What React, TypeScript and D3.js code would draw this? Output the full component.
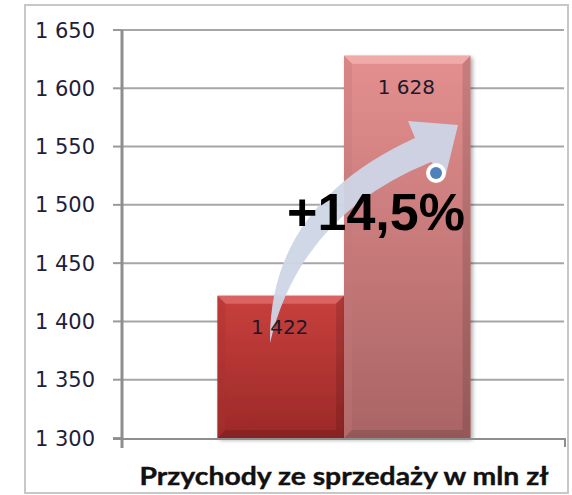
import React from 'react';
import * as d3 from 'd3';

const category = 'Przychody ze sprzedaży w mln zł';
const seriesNames = ['2010', '2011'];
const seriesValues = [1422, 1628];
const valueLabels = ['1 422', '1 628'];
const yTicks = [1300, 1350, 1400, 1450, 1500, 1550, 1600, 1650];
const yTickLabels = ['1 300', '1 350', '1 400', '1 450', '1 500', '1 550', '1 600', '1 650'];
const changeLabel = '+14,5%';

const W = 572, H = 495;
const margin = { top: 30, right: 6, bottom: 57, left: 122 };

const barColors = [
    { top: '#c8403d', bottom: '#9c2928', bevel: '#dc6a66', side: '#a83230' },
    { top: '#e48f8f', bottom: '#aa6464', bevel: '#f2b0ae', side: '#c27878' }
];

export default function App() {
    const plotRight = W - margin.right;
    const plotBottom = H - margin.bottom;

    const yScale = d3.scaleLinear().domain([1300, 1650]).range([plotBottom, margin.top]);
    const xScale0 = d3.scaleBand().domain([category]).range([margin.left, plotRight])
        .paddingInner(0).paddingOuter(0.377);
    const xScale1 = d3.scaleBand().domain(seriesNames).range([0, xScale0.bandwidth()]);

    const bars = seriesNames.map((s, i) => {
        const x = (xScale0(category) as number) + (xScale1(s) as number);
        const y = yScale(seriesValues[i]);
        return { s, i, x, y, w: xScale1.bandwidth(), h: plotBottom - y };
    });

    const b = 8; // bevel size

    return <svg width={W} height={H} style={{ position: 'absolute', left: 0, top: 0, background: '#fff' }}>
        <defs>
            {bars.map(d => (
                <linearGradient key={d.s} id={'bar' + d.i} x1="0" y1="0" x2="0" y2="1">
                    <stop offset="0%" stopColor={barColors[d.i].top} />
                    <stop offset="100%" stopColor={barColors[d.i].bottom} />
                </linearGradient>
            ))}
            <filter id="shadow" x="-10%" y="-10%" width="130%" height="130%">
                <feGaussianBlur in="SourceAlpha" stdDeviation="2" />
                <feOffset dx="2" dy="2" result="off" />
                <feComponentTransfer><feFuncA type="linear" slope="0.35" /></feComponentTransfer>
                <feMerge><feMergeNode /><feMergeNode in="SourceGraphic" /></feMerge>
            </filter>
        </defs>

        {/* outer frame */}
        <rect x={25} y={5} width={543} height={488} fill="none" stroke="#c8c8c8" strokeWidth={2} />

        {/* gridlines + y ticks */}
        {yTicks.map((t, i) => (
            <g key={t}>
                {i > 0 && <line x1={margin.left} x2={plotRight - 2} y1={yScale(t)} y2={yScale(t)} stroke="#a6a6a6" strokeWidth={2} />}
                <line x1={margin.left - 9} x2={margin.left} y1={yScale(t)} y2={yScale(t)} stroke="#9a9a9a" strokeWidth={2} />
                <text x={95} y={yScale(t)} dy="0.36em" textAnchor="end" fontFamily="DejaVu Sans" fontSize={21} fill="#1e1e3a">{yTickLabels[i]}</text>
            </g>
        ))}

        {/* bars */}
        {bars.map(d => {
            const c = barColors[d.i];
            return <g key={d.s} filter="url(#shadow)">
                <rect x={d.x} y={d.y} width={d.w} height={d.h} fill={`url(#bar${d.i})`} />
                <polygon points={`${d.x},${d.y} ${d.x + d.w},${d.y} ${d.x + d.w - b},${d.y + b} ${d.x + b},${d.y + b}`} fill={c.bevel} opacity={0.85} />
                <polygon points={`${d.x},${d.y} ${d.x + b},${d.y + b} ${d.x + b},${d.y + d.h - b} ${d.x},${d.y + d.h}`} fill={c.side} opacity={0.35} />
                <polygon points={`${d.x + d.w},${d.y} ${d.x + d.w - b},${d.y + b} ${d.x + d.w - b},${d.y + d.h - b} ${d.x + d.w},${d.y + d.h}`} fill="#000" opacity={0.12} />
                <polygon points={`${d.x},${d.y + d.h} ${d.x + b},${d.y + d.h - b} ${d.x + d.w - b},${d.y + d.h - b} ${d.x + d.w},${d.y + d.h}`} fill="#000" opacity={0.12} />
            </g>;
        })}

        {/* axes */}
        <line x1={margin.left} x2={margin.left} y1={margin.top} y2={plotBottom + 10} stroke="#8e8e8e" strokeWidth={3} />
        <line x1={margin.left - 9} x2={plotRight} y1={plotBottom + 1} y2={plotBottom + 1} stroke="#8e8e8e" strokeWidth={2} />
        <line x1={plotRight - 1} x2={plotRight - 1} y1={plotBottom + 1} y2={plotBottom + 9} stroke="#8e8e8e" strokeWidth={2} />

        {/* growth arrow */}
        <path d="M270,343 Q268,205 415,138 L408,121 L458,125 L446,174 L431,162 Q300,215 270,343 Z" fill="#cdd5e6" opacity={0.95} />

        {/* value labels */}
        {bars.map(d => (
            <text key={d.s} x={d.x + d.w / 2 - 1} y={d.y + 38} textAnchor="middle" fontFamily="DejaVu Sans" fontSize={20} fill="#1a1a2c">{valueLabels[d.i]}</text>
        ))}

        <text x={376} y={230} textAnchor="middle" fontFamily="Liberation Sans" fontWeight="bold" fontSize={52} fill="#000">{changeLabel}</text>

        <circle cx={436} cy={173} r={10} fill="#fff" />
        <circle cx={436} cy={173} r={6} fill="#4f81bd" />

        <text x={(xScale0(category) as number) + xScale0.bandwidth() / 2} y={485} textAnchor="middle"
            fontFamily="Lato" fontWeight="bold" fontSize={25} textLength={409} lengthAdjust="spacingAndGlyphs"
            stroke="#111" strokeWidth={0.4} fill="#111">{category}</text>
    </svg>;
}
